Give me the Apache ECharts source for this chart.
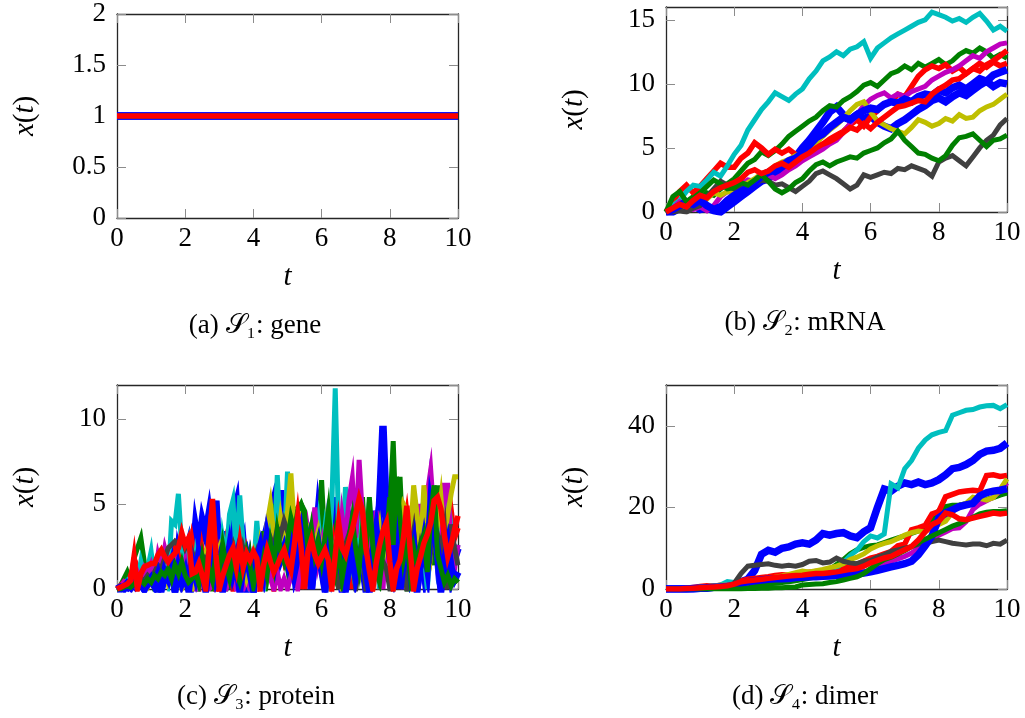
<!DOCTYPE html>
<html>
<head>
<meta charset="utf-8">
<script src="https://cdn.jsdelivr.net/npm/echarts@6/dist/echarts.min.js"></script>
<style>
  html, body { margin: 0; padding: 0; background: #ffffff; }
  #main { width: 1025px; height: 718px; }
</style>
</head>
<body>
<div id="main"></div>
<script>
// Ten simulated trajectories per species; colours follow the classic MATLAB order
const trajColors = ['#0000ff', '#008000', '#ff0000', '#00bfbf', '#bf00bf', '#bfbf00', '#404040', '#0000ff', '#008000', '#ff0000'];

// x-axis tick labels (shared by all panels)
const timeTicks = [0, 2, 4, 6, 8, 10];

// S1: gene (copy number stays at 1 for every trajectory)
const geneTimes = [0, 10];
const geneLevels = [1, 1, 1, 1, 1, 1, 1, 1, 1, 1];

// S2: mRNA, sampled every 0.2 time units
const mrnaBlue1 = [0,0,0.3,0.2,0.5,0.2,0.3,0.1,0,0.4, 0.8,1.2,1.6,2.0,2.4,2.6,3.0,3.4,3.7,4.3, 5.0,5.6,6.3,7.0,7.8,8.2,7.6,7.2,7.6,7.3, 7.5,7.0,6.7,6.5,6.9,7.2,7.6,8.0,8.3,8.7, 8.9,8.6,9.0,9.3,9.1,9.5,9.9,10.2,9.8,10.1, 10.0];
const mrnaGreen1 = [0,0.6,0.3,0.8,1.2,1.0,1.5,1.3,1.8,2.2, 2.6,3.2,3.8,4.1,4.7,4.4,4.8,5.3,5.9,6.3, 6.7,7.1,7.4,7.9,8.3,8.2,8.7,9.0,9.4,9.9, 10.1,9.8,10.3,10.8,11.0,11.4,11.1,11.6,11.3,11.6, 11.9,11.5,11.8,12.3,12.6,12.4,12.8,12.5,12.0,12.3, 12.0];
const mrnaRed1 = [0,0.8,1.6,2.1,1.5,2.0,2.6,3.2,3.8,3.5, 3.5,4.2,4.6,5.4,5.0,4.5,4.9,4.6,4.9,4.5, 4.4,4.7,5.0,5.3,5.7,6.0,6.3,6.8,7.2,6.7, 7.4,7.9,8.4,8.6,9.2,9.0,9.8,10.6,11.1,11.4, 11.2,11.5,11.0,11.3,10.8,11.2,11.6,11.3,11.7,11.4, 11.6];
const mrnaCyan = [0,0.5,0.9,1.6,2.1,2.0,2.5,3.1,2.8,3.6, 4.5,5.2,6.4,7.2,8.0,8.6,9.3,9.0,8.7,9.2, 9.6,10.4,11.0,11.8,12.1,12.5,12.2,12.7,12.9,13.3, 12.0,12.8,13.2,13.6,13.9,14.2,14.5,14.8,15.0,15.6, 15.4,15.2,14.9,15.1,14.8,15.2,15.5,14.9,14.2,14.5, 14.1];
const mrnaMagenta = [0,0.3,0.8,0.5,0.2,0.4,0.1,0.5,1.2,1.6, 1.9,2.2,2.5,2.4,2.7,2.9,2.6,2.9,3.3,3.6, 4.0,4.3,4.6,4.9,5.3,5.6,6.2,6.9,7.6,8.3, 8.8,9.1,9.3,8.9,9.2,9.0,9.4,9.6,9.8,10.3, 10.6,10.9,11.1,11.4,11.8,12.2,12.0,12.5,12.8,13.1, 13.2];
const mrnaYellow = [0,0.2,0.6,0.4,0.9,1.2,1.0,1.5,1.3,1.6, 1.4,1.9,2.3,2.6,3.0,3.2,3.6,3.9,4.1,4.4, 4.6,5.0,5.4,5.9,6.4,6.8,7.3,7.9,8.4,8.6, 7.8,7.1,6.8,6.5,6.3,6.1,6.6,7.2,7.0,6.7, 6.9,7.3,7.1,7.6,7.3,7.4,7.9,8.2,8.4,8.8, 9.2];
const mrnaGray = [0,0,0.1,0,0.3,0.5,1.2,1.8,2.4,2.1, 1.8,2.0,1.9,2.2,2.5,2.4,2.1,2.2,1.9,1.6, 2.0,2.4,3.0,3.2,2.9,2.6,2.2,1.8,2.1,2.9, 2.7,2.9,3.1,3.0,3.4,3.3,3.6,3.4,3.2,2.8, 3.9,4.2,4.4,4.0,3.6,4.3,5.0,5.6,6.0,6.8, 7.3];
const mrnaBlue2 = [0,0.2,0.5,0.8,0.6,0.9,0.5,0.2,0.4,0.9, 1.3,1.6,1.9,2.3,2.8,3.1,3.3,3.6,4.0,4.2, 4.6,5.2,5.8,6.1,6.6,7.0,7.4,7.2,7.6,7.9, 8.1,8.0,8.4,8.6,8.5,8.8,8.6,9.0,9.2,9.1, 9.5,9.3,9.7,9.9,9.6,10.0,10.4,10.2,10.7,10.9, 11.1];
const mrnaGreen2 = [0,1.2,1.6,0.8,1.1,1.5,2.0,2.5,2.2,1.8, 1.9,2.3,2.1,2.5,2.9,2.4,1.8,1.5,1.8,2.3, 2.6,3.2,3.7,3.9,3.6,3.9,4.1,4.3,4.2,4.6, 4.8,5.0,5.4,5.7,6.3,5.6,5.1,4.6,4.5,4.2, 4.0,4.4,5.2,5.8,5.9,6.1,5.6,5.1,5.6,5.7, 6.0];
const mrnaRed2 = [0,0.3,0.6,0.4,0.9,1.3,1.1,1.6,1.9,2.1, 2.3,2.6,3.1,3.3,3.0,3.2,3.6,3.8,3.5,3.9, 4.3,4.6,5.0,5.3,5.5,5.8,6.2,6.6,6.4,6.9, 6.5,7.0,7.4,7.8,8.2,8.3,8.5,8.7,8.6,9.2, 9.6,9.9,10.3,10.4,10.8,11.2,11.0,11.5,11.8,12.2, 12.6];

// S3: protein, sampled every 0.1 time units
const protBlue1 = [0,0,0.2,0.1,0.4,0.2,0.8,0.3,0,0.6, 0.4,1.0,0,1.4,0.8,1.6,1.2,0,2.2,1.4, 1.8,2.6,1.2,3.6,2.4,4.0,3.2,4.4,2.8,5.2, 1.6,3.4,0,2.2,4.2,5.0,1.8,2.6,0,1.4, 0,2.0,1.2,2.8,3.6,4.4,5.2,4.0,5.8,3.4, 3.8,3.4,3.6,2.2,3.0,1.8,2.6,0,2.0,4.4, 2.8,1.2,3.6,2.4,5.4,1.6,0,2.6,3.4,0, 2.0,3.2,1.4,0,2.8,4.6,1.8,5.0,9.6,4.2, 2.4,0,3.0,1.4,2.2,0,3.4,1.6,0,2.8, 1.2,3.6,5.8,4.4,2.0,3.2,0,2.4,0.8,1.8, 2.4];
const protGreen1 = [0,0.2,0.6,1.0,0.4,1.8,2.4,3.0,1.6,0.8, 1.2,0,1.0,0,0.6,1.4,0.8,0,1.2,0.6, 1.4,0.5,0,0.8,1.6,2.2,1.0,2.8,0,1.4, 0.8,2.0,0,1.2,0.6,1.6,0,1.0,0.5,1.8, 0,2.6,1.2,3.4,0.8,2.4,5.0,1.6,3.2,2.4, 1.2,3.6,4.4,4.8,5.0,4.6,3.0,2.2,3.4,1.6, 6.4,2.4,4.2,1.8,3.2,0,2.6,1.4,3.8,2.0, 0,3.0,5.4,1.8,2.8,0,1.6,3.2,1.2,2.4, 4.4,8.7,3.0,6.6,2.2,0,1.8,3.6,0.8,2.6, 4.0,6.1,3.2,1.4,6.1,2.8,0.8,0.6,1.0,0.4, 0.6];
const protRed1 = [0,0.2,0.4,0.2,0.8,0.5,1.2,0.6,1.0,0.4, 0.8,1.2,0.6,1.6,1.0,2.0,1.4,2.4,1.8,2.6, 2.0,1.2,2.8,1.6,0,2.2,1.0,3.0,1.4,0, 1.8,0.6,2.4,1.2,0,2.0,1.6,0.8,2.2,1.4, 1.0,0,1.8,1.2,2.6,1.6,0,2.4,3.0,1.8, 2.6,1.4,3.0,2.2,0,3.6,2.4,1.2,2.0,3.2, 1.8,2.8,0,3.4,2.2,1.6,3.0,4.0,2.4,0, 3.6,2.6,4.4,3.0,1.8,2.8,4.2,0,3.2,1.6, 2.4,3.8,2.2,0,3.0,4.4,2.6,3.6,1.8,2.8, 4.0,2.4,3.2,4.8,5.2,3.4,0,3.8,4.6,3.0, 3.6];
const protCyan = [0,0,0.3,0.5,0.2,1.0,0.4,1.6,0.8,1.2, 2.2,0.6,1.4,0,1.8,0.5,4.0,3.8,5.6,2.4, 1.6,2.6,0,1.8,0.3,1.2,0,2.0,0.8,1.5, 0,3.0,1.8,4.4,5.2,2.0,5.5,2.6,1.2,0, 1.0,4.0,1.6,0,2.2,3.4,1.8,6.7,3.0,2.2, 6.9,3.6,2.4,1.4,2.8,1.8,3.0,1.2,2.6,4.0, 1.8,3.6,2.2,5.0,11.8,3.4,1.6,6.0,2.8,1.4, 3.2,1.8,4.6,2.2,5.1,0,2.6,0,1.8,3.0, 1.2,0,2.4,1.4,3.2,1.6,0,2.8,1.8,3.8, 2.2,0,2.6,4.2,1.6,3.0,6.0,2.4,3.6,1.8, 2.6];
const protMagenta = [0,0.1,0.4,0.2,0.6,0.3,1.0,0.5,1.2,0.8, 1.4,0.6,2.0,1.2,2.4,1.6,0.8,1.8,1.2,0.6, 1.6,0,1.0,0,0.8,0.4,1.2,0,0.2,0.8, 0,1.0,0,0.6,1.4,0,0.8,0,0.6,0, 0.8,0,1.2,0.4,1.8,0.6,0,1.0,0,0.6, 0,0.8,1.6,0,2.2,1.2,3.4,2.0,4.8,1.6, 2.6,0,3.2,0.4,2.4,1.6,4.3,2.8,5.2,6.5, 3.0,7.6,4.2,2.0,3.6,1.4,4.6,2.8,0,3.4, 2.2,4.0,1.6,3.2,0,2.6,1.2,3.8,2.0,5.0, 3.4,5.6,7.0,4.2,3.0,1.8,6.1,6.1,2.4,1.2, 2.6];
const protYellow = [0,0,0.1,0.3,0.1,0.4,0.2,0.6,0.3,0.1, 0.5,0.2,0.8,0.4,1.0,0.3,0.6,0,0.4,0, 0.3,0.6,0,0.8,1.6,1.0,2.0,1.4,2.6,1.8, 2.4,1.2,2.0,0.8,1.6,1.0,2.2,1.4,0.6,1.2, 2.0,0.8,2.6,1.6,3.8,5.0,3.2,2.4,4.2,3.0, 4.6,6.8,3.6,2.8,4.0,2.4,3.2,1.8,2.6,3.4, 2.2,1.0,0,1.8,2.6,1.4,0,2.2,1.6,3.0, 2.0,1.2,3.4,2.6,1.0,0,2.4,3.6,1.8,2.8, 3.2,4.0,2.4,3.6,5.0,4.6,3.0,6.1,4.4,2.0, 6.1,3.4,2.2,4.6,3.8,5.4,3.0,4.4,5.6,6.6, 6.6];
const protGray = [0,0,0.2,0.1,0.3,0.4,0.2,0.6,0.5,0.8, 0.6,1.0,1.4,1.2,1.8,2.4,2.6,2.8,2.6,3.0, 2.4,2.8,2.2,1.6,2.4,2.0,1.6,2.2,1.8,1.2, 1.6,2.2,1.4,2.0,2.6,1.8,1.2,2.4,1.6,1.0, 1.6,2.2,1.4,2.6,1.8,3.0,2.4,3.6,3.2,4.0, 3.4,3.8,3.0,2.6,3.4,2.8,2.2,3.0,1.6,2.4, 1.0,2.0,2.8,1.6,2.4,0,1.8,2.6,3.2,2.0, 0,1.4,2.2,0,1.8,1.0,2.6,0.8,1.6,1.2, 0,2.0,1.0,2.8,1.6,0,2.2,3.4,1.4,2.6, 1.8,3.0,2.2,4.0,3.2,2.4,3.6,0,3.8,2.4, 1.4];
const protBlue2 = [0,0.1,0,0.3,0.1,0.5,0.2,0.4,0,0.3, 0.6,0.2,0.8,0,1.0,0.6,1.4,0,1.2,0.4, 1.0,0,1.6,0.8,2.0,1.2,0,1.4,2.2,0.8, 1.6,0,1.2,2.4,1.0,1.8,0,1.4,2.0,1.0, 0,1.6,2.4,1.2,3.0,2.0,1.4,2.8,1.8,2.4, 1.6,2.6,1.0,2.0,3.2,1.4,2.4,0,1.8,2.6, 1.2,0,2.0,0.8,1.6,2.8,1.0,0,1.4,2.2, 0.8,1.8,2.6,1.2,0,2.0,3.4,1.6,2.8,4.2, 2.0,1.0,2.6,0,1.8,3.0,1.2,2.4,0,1.6, 2.8,1.4,4.8,3.6,2.2,0,1.6,2.6,1.2,0.6, 1.0];
const protGreen2 = [0,0,0.1,0.2,0.1,0.3,0.2,0.5,0.3,0.6, 0.4,0.8,0.6,1.0,0.8,1.2,0.6,1.4,0.9,1.6, 0.8,0.4,0.6,1.0,0.3,1.8,0.6,1.2,0.5,2.0, 1.0,2.6,1.4,0.6,1.8,1.0,0.4,1.2,2.2,1.4, 0.2,1.2,0.6,1.8,0.8,2.6,1.4,3.4,2.2,1.6, 2.8,4.2,3.4,4.6,5.0,4.4,2.4,3.6,2.0,2.8, 1.6,3.0,4.6,2.2,1.0,2.4,0.6,1.8,3.0,4.2, 2.4,1.2,3.6,2.0,5.4,2.6,1.0,0.4,2.2,3.0, 5.4,2.6,6.6,4.2,1.8,3.0,0.8,2.4,1.4,2.6, 3.2,1.0,4.4,6.1,2.0,1.2,0.4,0.8,0.2,0.6, 0.4];
const protRed2 = [0,0.1,0.2,0.3,0.5,1.9,0,0.9,1.3,1.4, 1.5,1.5,2.0,2.3,1.9,1.6,1.9,2.1,2.4,3.3, 2.6,3.0,0.9,1.0,1.5,0.8,0,2.2,5.3,2.0, 0,0.8,1.4,2.0,2.4,1.3,2.7,1.3,2.1,1.7, 2.2,1.8,0,1.4,2.3,1.6,1.0,1.4,1.9,2.3, 1.6,1.1,2.6,4.3,2.4,0,2.2,2.9,2.0,1.5, 1.9,2.3,1.7,0,2.0,3.9,2.4,2.0,2.8,3.5, 4.4,5.3,4.6,2.4,1.1,0,1.5,2.6,3.4,3.9, 1.6,0,1.2,1.7,3.0,4.9,2.2,0,1.2,1.9, 2.7,3.2,3.9,5.2,5.4,4.7,3.2,1.9,2.6,3.5, 4.3];

// S4: dimer, sampled every 0.2 time units
const dimerBlue1 = [0,0,0,0,0,0.2,0.2,0.4,0.4,0.6, 1.0,1.8,2.4,4.5,8.5,9.5,9.0,10.0,10.3,11.0, 11.3,11.0,12.0,13.6,13.2,13.6,13.8,13.0,12.6,14.0, 15.0,20.0,24.5,24.0,25.2,26.0,25.6,26.2,25.6,26.0, 26.8,28.0,29.5,29.8,30.5,31.5,33.0,33.8,34.0,34.5, 35.8];
const dimerGreen1 = [0,0,0,0,0,0,0.1,0.2,0.2,0.3, 0.4,0.5,0.7,0.8,1.0,1.2,1.4,1.6,1.8,2.0, 2.3,2.6,3.0,3.6,4.8,6.0,7.2,8.6,9.6,10.2, 10.6,10.8,11.4,12.0,12.5,13.0,13.6,14.2,15.0,16.8, 19.2,20.2,20.5,20.6,20.9,21.2,21.6,22.0,22.4,23.0, 23.5];
const dimerRed1 = [0,0,0,0.2,0.4,0.6,0.8,0.7,0.9,1.0, 1.4,2.0,2.4,2.6,2.8,3.0,3.3,3.5,3.4,3.7, 3.9,4.1,4.3,4.2,4.6,4.8,5.2,5.6,6.0,6.8, 7.6,8.0,8.6,9.2,10.6,11.0,14.5,15.0,15.6,18.4, 19.0,22.6,23.2,23.8,24.0,24.2,24.0,27.8,28.0,27.6, 27.8];
const dimerCyan = [0,0,0,0.2,0.3,0.4,0.4,0.6,1.0,1.8, 1.6,1.8,1.9,2.0,2.2,2.4,2.5,2.6,2.8,2.9, 3.0,3.2,3.4,3.8,4.5,5.2,6.5,8.2,9.5,11.6, 13.0,12.5,13.5,25.8,24.8,29.5,31.5,34.5,36.5,37.8, 38.4,38.8,42.6,43.2,43.8,44.0,44.6,44.9,45.0,44.2, 45.2];
const dimerMagenta = [0,0,0,0,0.2,0.4,0.5,0.6,0.8,1.0, 1.1,1.3,1.5,1.8,2.2,2.5,2.7,2.8,2.6,2.8, 2.9,3.0,3.1,3.0,3.2,3.3,3.4,3.6,3.8,4.2, 4.6,5.4,6.2,6.8,7.4,8.0,8.8,10.0,11.2,12.5, 13.2,14.0,14.8,15.0,16.5,19.5,20.8,21.6,22.5,24.0, 26.0];
const dimerYellow = [0,0,0,0.1,0.3,0.4,0.6,0.8,0.9,1.0, 1.2,1.5,1.8,2.0,2.3,2.6,2.9,3.2,3.6,4.0, 4.4,4.2,4.5,4.8,5.2,5.6,6.2,7.2,7.8,8.6, 9.8,10.6,11.2,11.6,12.4,13.2,13.8,14.2,14.0,15.0, 15.8,16.6,18.8,20.4,21.0,22.5,22.2,21.8,22.4,24.5, 27.0];
const dimerGray = [0,0,0,0,0,0.1,0.2,0.3,0.4,0.6, 1.4,3.8,5.6,5.8,6.0,6.2,5.8,5.6,5.8,5.6, 6.0,6.8,7.0,6.4,6.6,7.6,6.8,6.4,6.2,6.8, 7.0,7.8,8.4,9.2,9.6,10.0,10.4,11.0,11.2,11.6, 12.0,11.6,11.2,11.0,10.8,11.0,11.0,10.6,11.2,11.0, 12.0];
const dimerBlue2 = [0,0,0,0,0.1,0.2,0.3,0.4,0.5,0.6, 0.9,1.4,1.8,2.0,2.2,2.4,2.5,2.5,2.6,2.8, 2.9,3.0,3.0,3.1,3.2,3.3,3.4,3.5,3.7,3.9, 4.2,4.6,5.0,5.4,5.8,6.2,6.8,8.4,10.6,13.0, 17.4,18.6,19.4,20.2,20.6,21.0,22.8,23.6,24.0,24.2, 24.6];
const dimerGreen2 = [0,0,0,0,0,0,0,0,0,0, 0,0,0.1,0.1,0.2,0.2,0.3,0.3,0.4,0.5, 1.0,1.1,1.2,1.3,1.6,1.8,2.2,2.6,3.0,3.8, 5.0,6.2,7.2,7.8,8.6,9.4,10.4,11.4,12.2,13.0, 13.8,14.6,15.4,16.0,16.8,17.6,18.4,18.8,19.0,19.0, 19.2];
const dimerRed2 = [0,0,0,0.1,0.2,0.3,0.4,0.5,0.6,0.8, 1.2,1.8,2.0,2.2,2.4,2.6,2.8,3.0,3.2,3.3, 3.4,3.6,3.8,3.8,4.0,4.2,4.5,4.8,5.0,5.6, 6.4,7.0,7.6,8.0,8.8,9.6,10.4,12.0,14.0,15.8, 16.6,18.6,18.2,17.2,17.0,17.4,17.8,18.2,18.6,18.4, 18.6];

// Sampling grids
const coarseTimes = Array.from({ length: 51 }, (_, k) => Math.round(k * 2) / 10);
const fineTimes = Array.from({ length: 101 }, (_, k) => k / 10);

const mrnaRuns = [mrnaBlue1, mrnaGreen1, mrnaRed1, mrnaCyan, mrnaMagenta, mrnaYellow, mrnaGray, mrnaBlue2, mrnaGreen2, mrnaRed2];
const proteinRuns = [protBlue1, protGreen1, protRed1, protCyan, protMagenta, protYellow, protGray, protBlue2, protGreen2, protRed2];
const dimerRuns = [dimerBlue1, dimerGreen1, dimerRed1, dimerCyan, dimerMagenta, dimerYellow, dimerGray, dimerBlue2, dimerGreen2, dimerRed2];
const geneRuns = geneLevels.map(v => [v, v]);

const SERIF = '"Liberation Serif", serif';

const panels = [
  { left: 117, top: 14,  ymax: 2,  yint: 0.5, showMax: true,  times: geneTimes,   runs: geneRuns,    caption: '(a) 𝒮₁: gene',    capX: 255, capY: 326 },
  { left: 666, top: 7,   ymax: 16, yint: 5,   showMax: false, times: coarseTimes, runs: mrnaRuns,    caption: '(b) 𝒮₂: mRNA',    capX: 805, capY: 323 },
  { left: 117, top: 385, ymax: 12, yint: 5,   showMax: false, times: fineTimes,   runs: proteinRuns, caption: '(c) 𝒮₃: protein', capX: 256, capY: 697 },
  { left: 666, top: 385, ymax: 50, yint: 20,  showMax: false, times: coarseTimes, runs: dimerRuns,   caption: '(d) 𝒮₄: dimer',   capX: 805, capY: 697 }
];
const plotW = 341;
const plotH = [204, 205, 204, 204];

const frameLine = { show: true, onZero: false, lineStyle: { color: '#262626', width: 1.3 } };
const innerTick = { show: true, inside: true, length: 9, lineStyle: { color: '#8c8c8c', width: 1 } };
const tickFont = { fontFamily: SERIF, fontSize: 27, color: '#000' };

const grid = [], xAxis = [], yAxis = [], series = [], graphic = [];

panels.forEach((p, i) => {
  grid.push({ left: p.left, top: p.top, width: plotW, height: plotH[i], containLabel: false });
  // bottom axis carries the labels, the top one only repeats the ticks
  xAxis.push({
    gridIndex: i, type: 'value', min: 0, max: 10, interval: 2, position: 'bottom',
    axisLine: frameLine, axisTick: innerTick, splitLine: { show: false },
    axisLabel: Object.assign({ margin: 7, formatter: v => timeTicks.includes(v) ? String(v) : '' }, tickFont),
    name: 't', nameLocation: 'middle', nameGap: 45,
    nameTextStyle: { fontFamily: SERIF, fontStyle: 'italic', fontSize: 29, color: '#000' }
  });
  xAxis.push({
    gridIndex: i, type: 'value', min: 0, max: 10, interval: 2, position: 'top',
    axisLine: frameLine, axisTick: innerTick, splitLine: { show: false }, axisLabel: { show: false }
  });
  yAxis.push({
    gridIndex: i, type: 'value', min: 0, max: p.ymax, interval: p.yint, position: 'left',
    axisLine: frameLine, axisTick: innerTick, splitLine: { show: false },
    axisLabel: Object.assign({ margin: 11, showMaxLabel: p.showMax }, tickFont),
    name: '{i|x}{r|(}{i|t}{r|)}', nameLocation: 'middle', nameRotate: 90, nameGap: 77,
    nameTextStyle: {
      rich: {
        i: { fontFamily: SERIF, fontStyle: 'italic', fontSize: 29, color: '#000' },
        r: { fontFamily: SERIF, fontSize: 29, color: '#000' }
      }
    }
  });
  yAxis.push({
    gridIndex: i, type: 'value', min: 0, max: p.ymax, interval: p.yint, position: 'right',
    axisLine: frameLine, axisTick: innerTick, splitLine: { show: false }, axisLabel: { show: false }
  });

  p.runs.forEach((vals, k) => {
    const col = trajColors[k];
    const w = col === '#0000ff' ? 7.5 : (col === '#ff0000' ? 5.5 : 5);
    series.push({
      type: 'line', xAxisIndex: 2 * i, yAxisIndex: 2 * i,
      data: p.times.map((t, j) => [t, vals[j]]),
      showSymbol: false, symbol: 'none', clip: true, silent: true,
      lineStyle: { color: col, width: w, join: 'miter', miterLimit: 10 },
      z: 2 + k
    });
  });

  graphic.push({
    type: 'text', x: p.capX, y: p.capY,
    style: {
      text: p.caption, x: 0, y: 0, align: 'center', verticalAlign: 'middle',
      fontFamily: SERIF, fontSize: 27, fill: '#000'
    }
  });
});

const chart = echarts.init(document.getElementById('main'), null, { renderer: 'canvas', width: 1025, height: 718 });
chart.setOption({
  animation: false,
  backgroundColor: '#ffffff',
  grid, xAxis, yAxis, series, graphic
});
</script>
</body>
</html>
